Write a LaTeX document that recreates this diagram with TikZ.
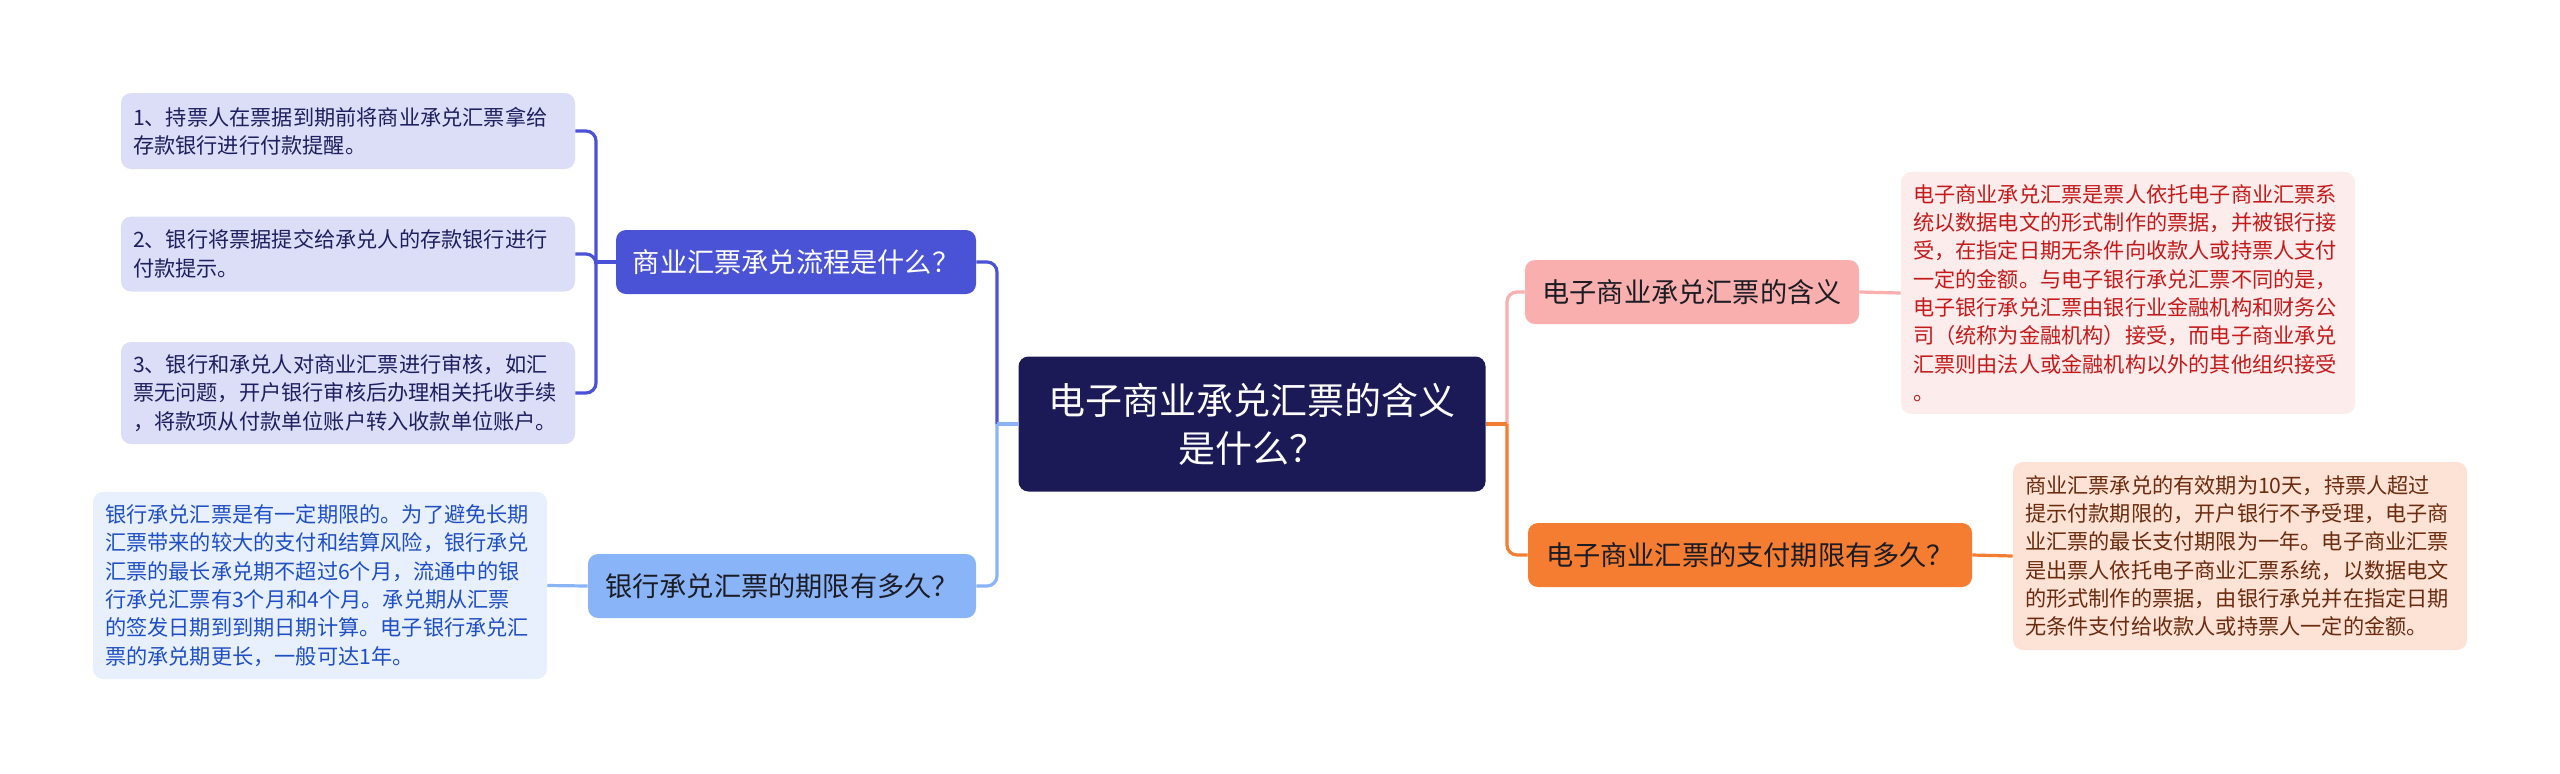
\documentclass[tikz,border=0pt]{standalone}
\usepackage{fontspec}
\setmainfont{Noto Sans CJK SC}
\usepackage{xcolor}
\definecolor{MapNavy}{HTML}{1B1A57}
\definecolor{MapRoyal}{HTML}{4A52D6}
\definecolor{MapLilac}{HTML}{DCDDF7}
\definecolor{MapInk}{HTML}{1E1F5E}
\definecolor{MapSky}{HTML}{8AB4F8}
\definecolor{MapIce}{HTML}{E8F0FE}
\definecolor{MapBlueInk}{HTML}{1F4FC4}
\definecolor{MapRose}{HTML}{F8AFAE}
\definecolor{MapBlush}{HTML}{FDECEC}
\definecolor{MapRed}{HTML}{C41A1A}
\definecolor{MapOrange}{HTML}{F57D32}
\definecolor{MapPeach}{HTML}{FDE3D6}
\definecolor{MapBrown}{HTML}{6B2B0E}
\definecolor{MapDark}{HTML}{1C1C24}

\begin{document}
\begin{tikzpicture}[
    x=0.5pt, y=-0.5pt,
    every node/.style={inner sep=0pt},
    box/.style={rounded corners=5pt, align=center, inner xsep=6pt},
    rootb/.style={box, fill=MapNavy, text=white,
                  minimum width=233.5pt, minimum height=67.5pt,
                  font=\fontsize{18.5}{24}\selectfont},
    topic/.style={box, minimum height=32pt, font=\fontsize{13.6}{16}\selectfont},
    note/.style={box, align=left, text width=215pt,
                 font=\fontsize{10.6}{14.15}\selectfont},
    link/.style={line width=1.6pt, rounded corners=5pt},
]
\useasboundingbox (0,0) rectangle (2560,773);

%% Root and topics
\node[rootb] (root) at (1252,424) {电子商业承兑汇票的含义\\是什么？};
\node[topic, fill=MapRoyal, text=white, minimum width=180pt] (flow)  at (796,262)  {商业汇票承兑流程是什么？};
\node[topic, fill=MapSky, text=MapDark, minimum width=194pt] (term)  at (782,586)  {银行承兑汇票的期限有多久？};
\node[topic, fill=MapRose, text=MapDark, minimum width=167pt] (mean)  at (1692,292) {电子商业承兑汇票的含义};
\node[topic, fill=MapOrange, text=MapDark, minimum width=222pt] (limit) at (1750,555) {电子商业汇票的支付期限有多久？};

%% Notes
\node[note, fill=MapLilac, text=MapInk, minimum height=38pt] (step1) at (348,131)
  {1、持票人在票据到期前将商业承兑汇票拿给\\存款银行进行付款提醒。};
\node[note, fill=MapLilac, text=MapInk, minimum height=37.5pt] (step2) at (348,254)
  {2、银行将票据提交给承兑人的存款银行进行\\付款提示。};
\node[note, fill=MapLilac, text=MapInk, minimum height=51pt] (step3) at (348,393)
  {3、银行和承兑人对商业汇票进行审核，如汇\\票无问题，开户银行审核后办理相关托收手续\\，将款项从付款单位账户转入收款单位账户。};
\node[note, fill=MapIce, text=MapBlueInk, minimum height=93.5pt] (bank) at (320,585.5)
  {银行承兑汇票是有一定期限的。为了避免长期\\汇票带来的较大的支付和结算风险，银行承兑\\汇票的最长承兑期不超过6个月，流通中的银\\行承兑汇票有3个月和4个月。承兑期从汇票\\的签发日期到到期日期计算。电子银行承兑汇\\票的承兑期更长，一般可达1年。};
\node[note, fill=MapBlush, text=MapRed, minimum height=121pt] (defn) at (2128,293)
  {电子商业承兑汇票是票人依托电子商业汇票系\\统以数据电文的形式制作的票据，并被银行接\\受，在指定日期无条件向收款人或持票人支付\\一定的金额。与电子银行承兑汇票不同的是，\\电子银行承兑汇票由银行业金融机构和财务公\\司（统称为金融机构）接受，而电子商业承兑\\汇票则由法人或金融机构以外的其他组织接受\\。};
\node[note, fill=MapPeach, text=MapBrown, minimum height=94pt] (valid) at (2240,556)
  {商业汇票承兑的有效期为10天，持票人超过\\提示付款期限的，开户银行不予受理，电子商\\业汇票的最长支付期限为一年。电子商业汇票\\是出票人依托电子商业汇票系统，以数据电文\\的形式制作的票据，由银行承兑并在指定日期\\无条件支付给收款人或持票人一定的金额。};

%% Connectors
\coordinate (lj) at (997,424);
\coordinate (rj) at (1507,424);
\coordinate (fj) at (596,262);

\draw[link, MapRoyal] (lj) |- (flow.east);
\draw[link, MapSky] (lj) |- (term.east);
\draw[link, MapSky] (root.west) -- (lj);
\draw[link, MapRose] (rj) |- (mean.west);
\draw[link, MapOrange] (rj) |- (limit.west);
\draw[link, MapOrange] (root.east) -- (rj);

\draw[link, MapRoyal] (flow.west) -- (fj);
\draw[link, MapRoyal] (fj) |- (step1.east);
\draw[link, MapRoyal] (fj) |- (step2.east);
\draw[link, MapRoyal] (fj) |- (step3.east);
\draw[link, MapSky] (term.west) -- (bank.east);
\draw[link, MapRose] (mean.east) -- (defn.west);
\draw[link, MapOrange] (limit.east) -- (valid.west);

\end{tikzpicture}
\end{document}
